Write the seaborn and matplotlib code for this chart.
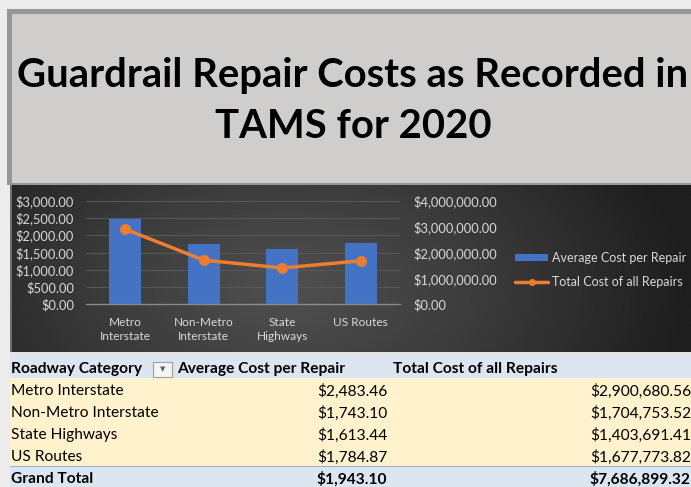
import matplotlib
matplotlib.use("Agg")
import matplotlib.pyplot as plt
import numpy as np
import seaborn as sns
from matplotlib.colors import LinearSegmentedColormap
from matplotlib.lines import Line2D
from matplotlib.patches import Patch, Rectangle

categories = ["Metro\nInterstate", "Non-Metro\nInterstate", "State\nHighways", "US Routes"]
row_names = ["Metro Interstate", "Non-Metro Interstate", "State Highways", "US Routes"]
avg_cost = [2483.46, 1743.10, 1613.44, 1784.87]
total_cost = [2900680.56, 1704753.52, 1403691.41, 1677773.82]
grand_avg = 1943.10
grand_total = 7686899.32
left_ticks = [0, 500, 1000, 1500, 2000, 2500, 3000]
right_ticks = [0, 1000000, 2000000, 3000000, 4000000]

W, H = 691, 487
BLUE = "#4472c4"
ORANGE = "#ed7d31"
LABEL = "#d9d9d9"

sns.set_theme(style="dark")
plt.rcParams["font.family"] = ["Lato", "DejaVu Sans"]

fig = plt.figure(figsize=(W / 100, H / 100), dpi=100, facecolor="#ececec")


def box(x0, y0, x1, y1, color, **kw):
    """Rectangle given in pixel coords (y down)."""
    r = Rectangle((x0 / W, 1 - y1 / H), (x1 - x0) / W, (y1 - y0) / H,
                  transform=fig.transFigure, facecolor=color,
                  edgecolor=kw.pop("edgecolor", "none"), zorder=kw.pop("zorder", -5), **kw)
    fig.patches.append(r)


def ptext(x, y, s, **kw):
    fig.text(x / W, 1 - y / H, s, **kw)


# page frame and title panel
box(7, 9, W, 185, "#979797")
box(12, 14, W, 183, "#d0cecd")
box(10, 185, 12, 352, "#6e6e6e")
box(10, 352, W, 355, "#e4e4e4")

ptext(353, 76, "Guardrail Repair Costs as Recorded in", ha="center", va="center",
      fontsize=28.8, fontweight="bold", color="black")
ptext(353, 127, "TAMS for 2020", ha="center", va="center",
      fontsize=28.8, fontweight="bold", color="black")

# dark gradient behind the chart
bg = fig.add_axes([12 / W, 1 - 352 / H, (W - 12) / W, (352 - 185) / H])
gx, gy = np.meshgrid(np.linspace(12, W, 300), np.linspace(185, 352, 80))
dist = np.sqrt(((gx - 290) / 400) ** 2 + ((gy - 290) / 240) ** 2)
shade = LinearSegmentedColormap.from_list("shade", ["#505050", "#3a3a3a", "#1e1e1e"])
bg.imshow(np.clip(dist, 0, 1), cmap=shade, aspect="auto", vmin=0, vmax=1)
bg.set_axis_off()

# chart
ax = fig.add_axes([86 / W, 1 - 304.3 / H, 314 / W, 103.6 / H])
ax.patch.set_alpha(0)
sns.barplot(x=categories, y=avg_cost, ax=ax, color=BLUE, saturation=1, width=0.41,
            edgecolor="none", linewidth=0, zorder=2)
ax.set_ylim(0, 3000)
ax.set_yticks(left_ticks)
ax.set_yticklabels([f"${v:,.2f}" for v in left_ticks])
ax.grid(axis="y", color="#585858", linewidth=0.8)
ax.grid(axis="x", visible=False)
ax.set_axisbelow(True)
for side in ["top", "left", "right"]:
    ax.spines[side].set_visible(False)
ax.spines["bottom"].set_visible(True)
ax.spines["bottom"].set_color("#8a8a8a")
ax.spines["bottom"].set_linewidth(1)
ax.tick_params(axis="y", length=0, colors=LABEL, labelsize=9.3, pad=8.5)
ax.tick_params(axis="x", length=0, colors=LABEL, labelsize=8.6, pad=9.5)
ax.set_xlabel("")
ax.set_ylabel("")

ax2 = ax.twinx()
sns.pointplot(x=categories, y=total_cost, ax=ax2, color=ORANGE, markers="o",
              errorbar=None, markersize=6, linewidth=2.5)
ax2.set_ylim(0, 4000000)
ax2.set_yticks(right_ticks)
ax2.set_yticklabels([f"${v:,.2f}" for v in right_ticks])
ax2.grid(False)
for side in ax2.spines:
    ax2.spines[side].set_visible(False)
ax2.tick_params(axis="y", length=0, colors=LABEL, labelsize=9.3, pad=9.5)
ax2.set_xlabel("")
ax2.set_ylabel("")
ax.set_xlim(-0.5, 3.5)
for t in ax.get_xticklabels():
    t.set_linespacing(1.3)

handles = [Patch(facecolor=BLUE, edgecolor="none"),
           Line2D([], [], color=ORANGE, linewidth=2.5, marker="o", markersize=4)]
fig.legend(handles, ["Average Cost per Repair", "Total Cost of all Repairs"],
           loc="center left", bbox_to_anchor=(509 / W, 1 - 270 / H), frameon=False,
           fontsize=9, labelcolor=LABEL, handlelength=2.6, handleheight=0.55,
           handletextpad=0.3, labelspacing=0.95, borderpad=0)

# pivot table below
box(10, 355, W, 378, "#dce6f1")
box(10, 378, W, 466, "#fff2cc")
box(10, 466, W, H, "#dce6f1")
box(10, 465.5, W, 467, "#95b3d7", zorder=-4)
box(153, 362, 172, 377, "#f4f4f4", edgecolor="#a0a0a0", linewidth=0.8, zorder=-4)
ptext(162.5, 369.5, "\u25bc", ha="center", va="center", fontsize=5, color="#606060",
      family=["DejaVu Sans"])

head_kw = dict(va="center", fontsize=11.2, fontweight="bold", color="black")
ptext(11, 369, "Roadway Category", ha="left", **head_kw)
ptext(177, 369, "Average Cost per Repair", ha="left", **head_kw)
ptext(393, 369, "Total Cost of all Repairs", ha="left", **head_kw)

row_y = [391, 413, 435, 457]
for name, a, t, y in zip(row_names, avg_cost, total_cost, row_y):
    ptext(11, y, name, ha="left", va="center", fontsize=11.2, color="black")
    ptext(387, y, f"${a:,.2f}", ha="right", va="center", fontsize=11.2, color="black")
    ptext(590, y, f"${t:,.2f}", ha="left", va="center", fontsize=11.2, color="black")

ptext(11, 479, "Grand Total", ha="left", **head_kw)
ptext(387, 479, f"${grand_avg:,.2f}", ha="right", **head_kw)
ptext(590, 479, f"${grand_total:,.2f}", ha="left", **head_kw)

fig.savefig("out.png", dpi=100, facecolor=fig.get_facecolor())
